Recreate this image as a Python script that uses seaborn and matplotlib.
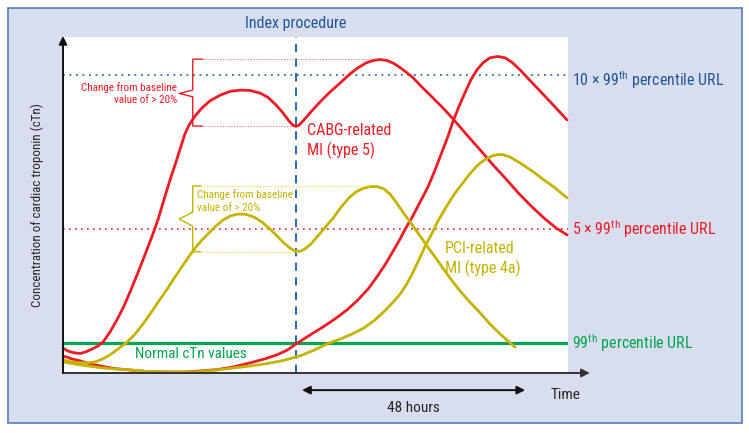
import numpy as np
import pandas as pd
import matplotlib
matplotlib.use("Agg")
import matplotlib.pyplot as plt
from matplotlib.patches import Rectangle
from matplotlib import font_manager
import seaborn as sns

# Time in hours after the start, cTn concentration in arbitrary units (0-100)
cabg_t = [0, 1.1, 2.4, 3.7, 4.9, 6.2, 7.5, 8.6, 10.1, 11.6, 13.1, 14.6, 16.1, 17.6, 19.1,
          20.4, 21.7, 23.0, 24.3, 25.4, 26.2, 27.1, 28.4, 29.9, 31.6, 33.8, 35.9, 38.1,
          40.2, 42.4, 44.1, 45.8, 47.3, 48.6, 49.5, 50.1, 50.8, 51.8, 53.5, 55.3, 57.4,
          59.6, 61.7, 63.4, 65.2, 66.7, 68.2, 69.7, 71.2, 72.9, 75.1, 77.2, 79.4, 81.7,
          83.9, 86.7, 89.7, 92.5, 95.1, 98.1, 101.1, 103.7, 106.0, 108.4]
cabg_c = [7.4, 6.5, 6.0, 5.8, 6.3, 7.1, 8.0, 9.2, 12.2, 15.8, 19.9, 24.7, 29.8, 35.1, 40.5,
          45.5, 51.5, 57.4, 62.8, 67.6, 71.1, 73.8, 76.5, 78.9, 81.0, 82.7, 83.8, 84.2,
          84.1, 83.3, 82.0, 79.8, 77.4, 75.0, 73.7, 73.4, 73.8, 75.3, 78.0, 80.7, 83.6,
          86.3, 89.0, 90.8, 92.3, 93.0, 93.3, 93.0, 92.1, 90.5, 88.1, 85.1, 82.1, 78.9,
          75.6, 71.1, 66.4, 61.9, 58.0, 53.3, 49.1, 45.8, 43.2, 41.1]

late_red_t = [0, 1.9, 3.7, 5.8, 8.0, 11.2, 14.4, 18.3, 22.4, 26.2, 29.5, 33.1, 36.6, 40.2,
              43.4, 46.0, 48.2, 50.3, 53.1, 55.9, 58.5, 61.1, 63.4, 65.6, 67.5, 69.2, 71.0,
              72.5, 73.5, 75.1, 76.8, 78.5, 80.0, 81.5, 82.8, 83.9, 85.2, 86.5, 87.7, 89.0,
              90.3, 91.8, 93.5, 95.1, 96.6, 98.3, 100.4, 102.6, 105.4, 108.4]
late_red_c = [5.1, 4.2, 3.6, 2.7, 2.1, 1.3, 0.9, 0.4, 0.3, 0.3, 0.6, 1.0, 1.8, 3.0,
              4.2, 5.4, 6.8, 8.8, 11.3, 13.7, 16.1, 18.8, 21.7, 25.0, 28.6, 32.1, 36.3,
              39.9, 42.6, 46.4, 50.9, 55.4, 60.4, 65.8, 70.5, 75.0, 79.5, 83.6, 87.2, 90.2,
              92.3, 93.8, 94.2, 93.8, 92.4, 90.2, 87.1, 83.9, 79.8, 75.3]

pci_t = [0, 1.5, 3.2, 5.2, 6.9, 8.6, 10.1, 11.8, 13.8, 15.5, 17.2, 18.9, 20.6, 22.4,
         24.1, 25.8, 27.3, 28.6, 29.9, 31.4, 32.9, 34.4, 35.9, 37.6, 39.4, 41.1, 42.8,
         44.5, 46.0, 47.5, 48.8, 49.9, 51.0, 52.0, 53.3, 54.8, 56.3, 58.1, 59.8, 61.5,
         63.0, 64.5, 66.0, 67.5, 69.0, 70.3, 71.6, 73.1, 74.8, 76.8, 78.9, 81.1, 83.2,
         85.4, 87.5, 89.7, 91.8, 94.0, 95.7, 97.2]
pci_c = [3.9, 3.4, 3.1, 3.0, 3.3, 4.2, 5.4, 7.1, 9.2, 11.6, 14.6, 17.9, 21.4, 25.0,
         28.6, 32.1, 35.1, 37.5, 39.6, 41.7, 43.8, 45.5, 46.7, 47.3, 47.2, 46.4, 44.9,
         42.9, 40.8, 38.7, 37.2, 36.3, 36.2, 36.9, 38.4, 40.8, 43.2, 46.1, 49.4, 52.1,
         53.9, 54.9, 55.5, 55.5, 54.8, 53.3, 50.9, 47.9, 44.6, 40.8, 36.6, 32.4, 28.3,
         24.4, 21.1, 17.9, 14.6, 11.6, 9.5, 7.7]

late_pci_t = [0, 3.7, 8.0, 11.2, 14.4, 18.7, 22.4, 26.2, 29.5, 33.1, 36.6, 40.2, 43.4,
              47.3, 51.0, 54.0, 57.0, 59.6, 62.2, 64.7, 67.1, 69.2, 71.0, 72.5, 73.8,
              75.1, 76.3, 77.8, 79.4, 80.6, 81.9, 83.2, 84.5, 85.8, 87.1, 88.4, 89.7,
              91.0, 92.3, 93.5, 94.6, 96.1, 98.3, 100.9, 103.2, 105.8, 108.4]
late_pci_c = [3.3, 2.4, 1.6, 1.2, 0.9, 0.4, 0.3, 0.3, 0.4, 0.9, 1.5, 2.1, 2.7,
              3.7, 5.1, 6.8, 8.8, 10.1, 11.6, 13.4, 15.8, 18.5, 21.1, 23.5, 26.2,
              29.5, 33.0, 37.5, 41.7, 45.2, 48.2, 51.2, 53.9, 56.2, 58.6, 60.7, 62.5,
              63.7, 64.6, 65.0, 65.0, 64.3, 62.5, 60.1, 57.7, 55.1, 52.1]

url_99 = 8.9
url_5x = 42.9
url_10x = 88.7
index_time = 50.1
window_start = 51.4
window_end = 99.4

RED = "#ec1c24"
OLIVE = "#c4b300"
GREEN = "#00a651"
BLUE = "#2f6db5"
DARKBLUE = "#1f579c"
LAVENDER = "#d9deee"

installed = {f.name for f in font_manager.fontManager.ttflist}
narrow = "Liberation Sans Narrow" if "Liberation Sans Narrow" in installed else "Roboto Condensed"
if narrow not in installed:
    narrow = "Liberation Sans"

sns.set_style("white")
plt.rcParams["font.family"] = [narrow, "DejaVu Sans"]
plt.rcParams["mathtext.fontset"] = "custom"
plt.rcParams["mathtext.rm"] = narrow

fig = plt.figure(figsize=(7.49, 4.33), dpi=100)
fig.patch.set_facecolor("white")
fig.patches.append(Rectangle((8 / 749, 10 / 433), 734 / 749, 415 / 433, transform=fig.transFigure,
                             facecolor=LAVENDER, edgecolor="#4f7fbd", lw=1.2, zorder=-10))

ax = fig.add_axes([63 / 749, 60 / 433, 505 / 749, 336 / 433])
ax.set_facecolor("white")
ax.set_xlim(0, 108.6)
ax.set_ylim(0, 100)

# reference levels
ax.axhline(url_10x, color=BLUE, lw=1.3, ls=(0, (1, 2.6)))
ax.axhline(url_5x, color=RED, lw=1.2, ls=(0, (1, 2.6)))
ax.axhline(url_99, color=GREEN, lw=2.3)
ax.axvline(index_time, color=BLUE, lw=1.5, ls=(0, (4, 3)))

curves = [
    (cabg_t, cabg_c, RED),
    (late_red_t, late_red_c, RED),
    (pci_t, pci_c, OLIVE),
    (late_pci_t, late_pci_c, OLIVE),
]
for t, c, col in curves:
    sns.lineplot(x=t, y=c, sort=False, color=col, lw=2.0, ax=ax, clip_on=False,
                 solid_joinstyle="round", solid_capstyle="round")

# brackets showing the >20% change
ax.plot([30.0, 27.9, 27.9, 25.0, 27.9, 27.9, 30.0],
        [93.4, 93.4, 84.2, 83.2, 82.2, 73.5, 73.5], color=RED, lw=1.0)
ax.plot([30.0, 67.5], [93.4, 93.4], color=RED, lw=0.8, ls=(0, (1, 1.5)), alpha=0.6)
ax.plot([30.0, 49.5], [73.5, 73.5], color=RED, lw=0.8, ls=(0, (1, 1.5)), alpha=0.6)
ax.text(24.5, 83.2, "Change from baseline\nvalue of > 20%", color=RED, fontsize=8,
        ha="right", va="center", linespacing=1.35)

ax.plot([29.6, 27.9, 27.9, 25.0, 27.9, 27.9, 29.6],
        [55.65, 55.65, 47.9, 45.8, 43.7, 36.1, 36.1], color=OLIVE, lw=1.0)
ax.plot([29.6, 66.0], [55.65, 55.65], color="#e0d640", lw=0.8, ls=(0, (1, 1.5)))
ax.plot([29.6, 50.5], [36.1, 36.1], color="#e0d640", lw=0.8, ls=(0, (1, 1.5)))
ax.text(28.8, 51.2, "Change from baseline\nvalue of > 20%", color=OLIVE, fontsize=8,
        ha="left", va="center", linespacing=1.35)

# curve labels
ax.text(52.5, 69.0, "CABG-related\nMI (type 5)", color=RED, fontsize=11.5,
        ha="left", va="center", linespacing=1.3)
ax.text(82.2, 34.0, "PCI-related\nMI (type 4a)", color=OLIVE, fontsize=11.5,
        ha="left", va="center", linespacing=1.3)
ax.text(15.5, 5.6, "Normal cTn values", color=GREEN, fontsize=11, ha="left", va="center")

# right side labels
ax.text(109.5, url_10x - 1.4, r"10 × 99$^{\rm th}$ percentile URL", color=DARKBLUE,
        fontsize=11.5, ha="left", va="center", clip_on=False)
ax.text(109.5, url_5x, r"5 × 99$^{\rm th}$ percentile URL", color=RED,
        fontsize=11.5, ha="left", va="center", clip_on=False)
ax.text(109.5, url_99, r"99$^{\rm th}$ percentile URL", color=GREEN,
        fontsize=11.5, ha="left", va="center", clip_on=False)
ax.text(index_time, 103.9, "Index procedure", color=DARKBLUE, fontsize=11.5,
        ha="center", va="center", clip_on=False)

# axes arrows
ax.annotate("", xy=(113.3, 0), xytext=(0, 0), annotation_clip=False,
            arrowprops=dict(arrowstyle="-|>", color="#333333", lw=1.4, mutation_scale=12,
                            shrinkA=0, shrinkB=0))
ax.annotate("", xy=(0, 100.3), xytext=(0, 0), annotation_clip=False,
            arrowprops=dict(arrowstyle="-|>", color="#111111", lw=1.4, mutation_scale=12,
                            shrinkA=0, shrinkB=0))
ax.annotate("", xy=(window_end, -5.1), xytext=(window_start, -5.1), annotation_clip=False,
            arrowprops=dict(arrowstyle="<|-|>", color="#111111", lw=1.4, mutation_scale=12,
                            shrinkA=0, shrinkB=0))
ax.text((window_start + window_end) / 2, -10.4, "48 hours", fontsize=11,
        ha="center", va="center", clip_on=False)
ax.text(108.0, -6.6, "Time", fontsize=11, ha="center", va="center", clip_on=False)

fig.text(37 / 749, 1 - 205 / 433, "Concentration of cardiac troponin (cTn)", fontsize=9.4,
         rotation=90, ha="center", va="center")

sns.despine(ax=ax, left=True, bottom=True)
ax.set_xticks([])
ax.set_yticks([])

fig.savefig("out.png", dpi=100, facecolor=fig.get_facecolor())
